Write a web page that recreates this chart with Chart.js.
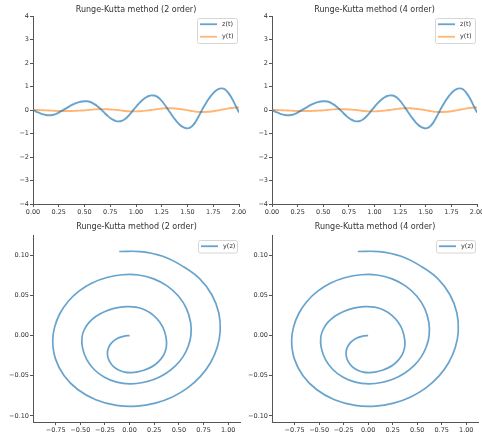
<!DOCTYPE html>
<html>
<head>
<meta charset="utf-8">
<script src="https://cdn.jsdelivr.net/npm/chart.js@4.4.0/dist/chart.umd.min.js"></script>
<style>
  html, body { margin: 0; padding: 0; background: #fff; overflow: hidden; }
  #wrap { position: relative; width: 482px; height: 437px; overflow: hidden; }
  canvas { position: absolute; }
</style>
</head>
<body>
<div id="wrap">
  <canvas id="rk2t" width="249" height="218" style="left:0;top:0"></canvas>
  <canvas id="rk4t" width="250" height="218" style="left:241px;top:0"></canvas>
  <canvas id="rk2p" width="249" height="218" style="left:0;top:218px"></canvas>
  <canvas id="rk4p" width="250" height="218" style="left:241px;top:218px"></canvas>
</div>
<script>
// time grid (0 .. 2)
const tVals = [0, 0.025, 0.05, 0.075, 0.1, 0.125, 0.15, 0.175, 0.2, 0.225,
  0.25, 0.275, 0.3, 0.325, 0.35, 0.375, 0.4, 0.425, 0.45, 0.475,
  0.5, 0.525, 0.55, 0.575, 0.6, 0.625, 0.65, 0.675, 0.7, 0.725,
  0.75, 0.775, 0.8, 0.825, 0.85, 0.875, 0.9, 0.925, 0.95, 0.975,
  1.0, 1.025, 1.05, 1.075, 1.1, 1.125, 1.15, 1.175, 1.2, 1.225,
  1.25, 1.275, 1.3, 1.325, 1.35, 1.375, 1.4, 1.425, 1.45, 1.475,
  1.5, 1.525, 1.55, 1.575, 1.6, 1.625, 1.65, 1.675, 1.7, 1.725,
  1.75, 1.775, 1.8, 1.825, 1.85, 1.875, 1.9, 1.925, 1.95, 1.975, 2.0];

const zVals = [0, -0.055, -0.106, -0.151, -0.187, -0.212, -0.224, -0.222, -0.201, -0.163,
  -0.111, -0.050, 0.016, 0.082, 0.145, 0.204, 0.257, 0.301, 0.336, 0.360,
  0.373, 0.373, 0.351, 0.305, 0.239, 0.158, 0.066, -0.036, -0.147, -0.250,
  -0.340, -0.411, -0.459, -0.483, -0.478, -0.436, -0.360, -0.255, -0.130, 0.005,
  0.135, 0.258, 0.371, 0.467, 0.543, 0.595, 0.622, 0.619, 0.577, 0.497,
  0.384, 0.245, 0.090, -0.072, -0.231, -0.381, -0.514, -0.624, -0.707, -0.760,
  -0.780, -0.753, -0.666, -0.526, -0.343, -0.133, 0.075, 0.260, 0.434, 0.589,
  0.721, 0.822, 0.889, 0.919, 0.905, 0.834, 0.710, 0.541, 0.337, 0.112, -0.105];

// y(t), read mostly from the spiral (small amplitude)
const yVals = [0, -0.0007, -0.0026, -0.0057, -0.0098, -0.0146, -0.0198, -0.0262, -0.0328, -0.0386,
  -0.0429, -0.0454, -0.0460, -0.0451, -0.0432, -0.0402, -0.0363, -0.0315, -0.0261, -0.0201,
  -0.0138, -0.0053, 0.0063, 0.0167, 0.0254, 0.0317, 0.0353, 0.0359, 0.0340, 0.0300,
  0.0240, 0.0163, 0.0075, -0.0021, -0.0151, -0.0296, -0.0422, -0.0519, -0.0580, -0.0600,
  -0.0584, -0.0540, -0.0469, -0.0375, -0.0262, -0.0134, 0.0003, 0.0162, 0.0334, 0.0488,
  0.0614, 0.0705, 0.0753, 0.0756, 0.0722, 0.0653, 0.0552, 0.0424, 0.0274, 0.0108,
  -0.0066, -0.0287, -0.0496, -0.0671, -0.0798, -0.0868, -0.0877, -0.0840, -0.0763, -0.0650,
  -0.0505, -0.0335, -0.0146, 0.0053, 0.0281, 0.0507, 0.0708, 0.0860, 0.0985, 0.1043, 0.1045];

const titles = ["Runge-Kutta method (2 order)", "Runge-Kutta method (4 order)"];
const timeLabels = ["z(t)", "y(t)"];
const phaseLabel = "y(z)";

const BLUE = "rgba(31,119,180,0.68)";
const ORANGE = "rgba(255,127,14,0.58)";
const FONT = '"DejaVu Sans", sans-serif';

Chart.defaults.font.family = FONT;
Chart.defaults.font.size = 6.5;
Chart.defaults.color = "#333";

function minus(s) { return s.replace("-", "\u2212"); }

// title drawn over the centre of the plot area
const plotTitle = {
  id: "plotTitle",
  afterDraw(chart, args, opts) {
    const ctx = chart.ctx, a = chart.chartArea;
    ctx.save();
    ctx.font = "8px " + FONT;
    ctx.fillStyle = "#333";
    ctx.textAlign = "center";
    ctx.textBaseline = "middle";
    ctx.fillText(opts.text, (a.left + a.right) / 2, opts.y);
    ctx.restore();
  }
};

// matplotlib-like legend box in the upper right corner
const boxLegend = {
  id: "boxLegend",
  afterDraw(chart, args, opts) {
    const ctx = chart.ctx, a = chart.chartArea;
    const sets = chart.data.datasets;
    const rowH = 12.5, w = opts.width;
    const x = a.right - opts.right - w;
    const y = a.top + opts.top;
    const h = sets.length * rowH;
    ctx.save();
    ctx.beginPath();
    ctx.roundRect(x + 0.5, y + 0.5, w, h, 2);
    ctx.fillStyle = "rgba(255,255,255,0.8)";
    ctx.fill();
    ctx.strokeStyle = "#d6d6d6";
    ctx.lineWidth = 1;
    ctx.stroke();
    ctx.font = "6.5px " + FONT;
    ctx.textBaseline = "middle";
    sets.forEach((ds, i) => {
      const cy = y + rowH / 2 + i * rowH;
      ctx.beginPath();
      ctx.moveTo(x + 3, cy);
      ctx.lineTo(x + 20, cy);
      ctx.strokeStyle = ds.borderColor;
      ctx.lineWidth = 1.8;
      ctx.stroke();
      ctx.fillStyle = "#333";
      ctx.fillText(ds.label, x + 25, cy);
    });
    ctx.restore();
  }
};

function axis(min, max, step, width, height, fmt) {
  return {
    type: "linear",
    min: min,
    max: max,
    border: { display: true, color: "#555", width: 1 },
    grid: { display: true, drawOnChartArea: false, tickLength: 3, color: "#555" },
    ticks: {
      stepSize: step,
      includeBounds: false,
      autoSkip: false,
      maxRotation: 0,
      padding: 1,
      color: "#333",
      callback: fmt
    },
    afterFit(scale) {
      if (width) scale.width = width;
      if (height) scale.height = height;
    }
  };
}

const fmtInt = v => minus(String(Math.round(v)));
const fmt2 = v => minus((Math.abs(v) < 1e-9 ? 0 : v).toFixed(2));

function timeChart(id, title, yWidth, padRight) {
  new Chart(document.getElementById(id), {
    type: "line",
    data: {
      datasets: [
        {
          label: timeLabels[0],
          data: tVals.map((t, i) => ({ x: t, y: zVals[i] })),
          borderColor: BLUE,
          borderWidth: 1.9,
          pointRadius: 0,
          cubicInterpolationMode: "monotone",
          fill: false
        },
        {
          label: timeLabels[1],
          data: tVals.map((t, i) => ({ x: t, y: yVals[i] })),
          borderColor: ORANGE,
          borderWidth: 1.9,
          pointRadius: 0,
          cubicInterpolationMode: "monotone",
          fill: false
        }
      ]
    },
    options: {
      responsive: false,
      animation: false,
      devicePixelRatio: 1,
      layout: { padding: { left: 0, right: padRight, top: 16, bottom: 0 } },
      plugins: {
        legend: { display: false },
        tooltip: { enabled: false },
        plotTitle: { text: title, y: 10 },
        boxLegend: { width: 40, right: 2, top: 2 }
      },
      scales: {
        x: axis(0, 2, 0.25, null, 14, fmt2),
        y: axis(-4, 4, 1, yWidth, null, fmtInt)
      }
    },
    plugins: [plotTitle, boxLegend]
  });
}

function phaseChart(id, title, yWidth, padRight) {
  new Chart(document.getElementById(id), {
    type: "scatter",
    data: {
      datasets: [
        {
          label: phaseLabel,
          data: zVals.map((z, i) => ({ x: z, y: yVals[i] })),
          borderColor: BLUE,
          borderWidth: 1.7,
          showLine: true,
          tension: 0.4,
          pointRadius: 0,
          fill: false
        }
      ]
    },
    options: {
      responsive: false,
      animation: false,
      devicePixelRatio: 1,
      layout: { padding: { left: 0, right: padRight, top: 17, bottom: 0 } },
      plugins: {
        legend: { display: false },
        tooltip: { enabled: false },
        plotTitle: { text: title, y: 9 },
        boxLegend: { width: 39, right: 3, top: 5 }
      },
      scales: {
        x: axis(-0.98, 1.12, 0.25, null, 14, fmt2),
        y: axis(-0.1075, 0.125, 0.05, yWidth, null, fmt2)
      }
    },
    plugins: [plotTitle, boxLegend]
  });
}

timeChart("rk2t", titles[0], 33, 10);
timeChart("rk4t", titles[1], 31, 14);
phaseChart("rk2p", titles[0], 33, 9);
phaseChart("rk4p", titles[1], 31, 13);
</script>
</body>
</html>
